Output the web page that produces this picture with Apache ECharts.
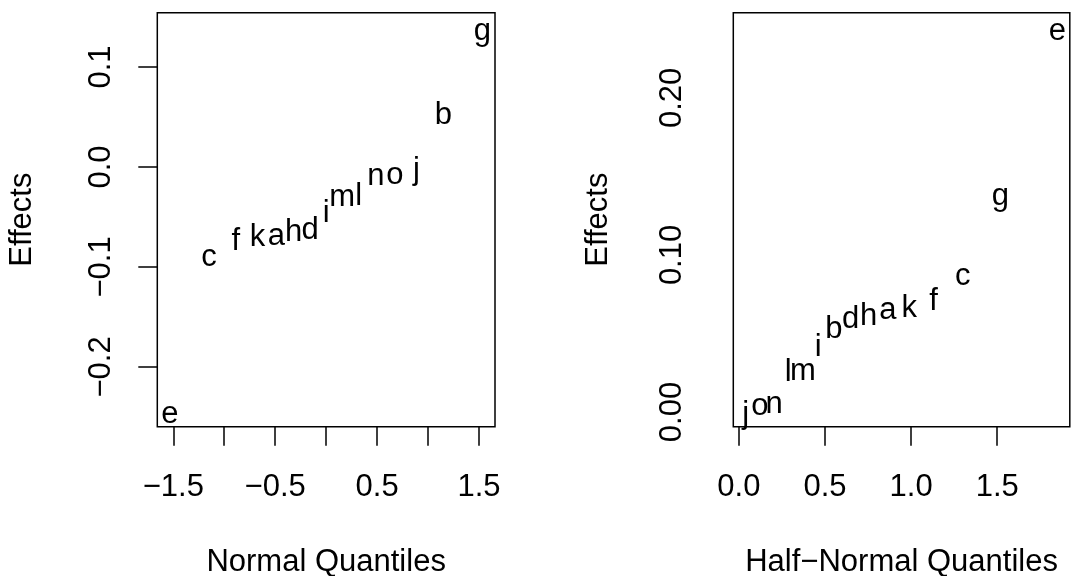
<!DOCTYPE html>
<html><head><meta charset="utf-8">
<script src="https://cdn.jsdelivr.net/npm/echarts@6/dist/echarts.min.js"></script>
<style>html,body{margin:0;padding:0;background:#fff}#c{width:1071px;height:576px}</style>
</head><body><div id="c"></div>
<script>
// Effect labels and their estimated effect sizes
const letters = ['a','b','c','d','e','f','g','h','i','j','k','l','m','n','o'];
const effects = [-0.0665, 0.0545, -0.088, -0.061, -0.2445, -0.072, 0.139, -0.0625, -0.043, -0.0004, -0.068, -0.0268, -0.0275, -0.0065, -0.0055];
// Normal quantile (x) of each letter in the left panel
const normalQuantiles = [-0.489, 1.150, -1.150, -0.157, -1.534, -0.887, 1.534, -0.319, 0.000, 0.887, -0.674, 0.319, 0.157, 0.489, 0.674];
// Half-normal quantile (x) of each letter in the right panel
const halfNormalQuantiles = [0.865, 0.552, 1.300, 0.649, 1.849, 1.131, 1.518, 0.753, 0.460, 0.040, 0.989, 0.287, 0.372, 0.204, 0.122];
// Ticks and tick labels
const leftXTicks = [-1.5, -1, -0.5, 0, 0.5, 1, 1.5];
const leftXLabels = [-1.5, -0.5, 0.5, 1.5];
const leftYTicks = [-0.2, -0.1, 0, 0.1];
const rightXTicks = [0, 0.5, 1, 1.5];
const rightYLabels = [0, 0.1, 0.2];

const FONT = 'Liberation Sans, Arial, Helvetica, sans-serif';
const FS = 31;
const absEffects = effects.map(Math.abs);

function ext(arr) {
  const mn = Math.min(...arr), mx = Math.max(...arr), r = mx - mn;
  return [mn - 0.04 * r, mx + 0.04 * r];
}
function fmt(d) {
  return v => (v < -1e-12 ? '\u2212' : '') + Math.abs(v).toFixed(d);
}
const leftData = letters.map((l, i) => ({ name: l, value: [normalQuantiles[i], effects[i]] }));
const rightData = letters.map((l, i) => ({ name: l, value: [halfNormalQuantiles[i], absEffects[i]] }));

const lx = ext(normalQuantiles), ly = ext(effects);
const rx = ext(halfNormalQuantiles), ry = ext(absEffects);

const textStyle = { fontSize: FS, color: '#000', fontFamily: FONT };
const tickStyle = { color: '#000', width: 1.5 };

function xAxis(gi, range, ticks, labels, dec, name) {
  return {
    type: 'value', gridIndex: gi, min: range[0], max: range[1], position: 'bottom',
    axisLine: { show: false, onZero: false },
    splitLine: { show: false },
    axisTick: { show: true, customValues: ticks, length: 19, lineStyle: tickStyle },
    axisLabel: Object.assign({ customValues: labels, formatter: fmt(dec), margin: 45, hideOverlap: false }, textStyle),
    name: name, nameLocation: 'middle', nameGap: 120, nameTextStyle: textStyle
  };
}
function yAxis(gi, range, ticks, labels, dec, showTick, margin) {
  return {
    type: 'value', gridIndex: gi, min: range[0], max: range[1], position: 'left',
    axisLine: { show: false, onZero: false },
    splitLine: { show: false },
    axisTick: { show: showTick, customValues: ticks, length: 19, lineStyle: tickStyle },
    axisLabel: Object.assign({ customValues: labels, formatter: fmt(dec), margin: margin, rotate: 90, hideOverlap: false }, textStyle),
    name: 'Effects', nameLocation: 'middle', nameGap: 119, nameTextStyle: textStyle
  };
}
const labelCfg = Object.assign({ show: true, position: 'inside', formatter: '{b}', offset: [0, 3], textBorderWidth: 0, textBorderColor: 'transparent', opacity: 1 }, textStyle);

const gridBase = { top: 12.7, height: 414, show: true, borderColor: '#000', borderWidth: 1.5, backgroundColor: 'transparent', containLabel: false, outerBoundsMode: 'none' };

const chart = echarts.init(document.getElementById('c'), null, { renderer: 'canvas' });
chart.setOption({
  animation: false,
  backgroundColor: '#fff',
  grid: [
    Object.assign({ left: 157.3, width: 337.7 }, gridBase),
    Object.assign({ left: 733.3, width: 336.5 }, gridBase)
  ],
  xAxis: [
    xAxis(0, lx, leftXTicks, leftXLabels, 1, 'Normal Quantiles'),
    xAxis(1, rx, rightXTicks, rightXTicks, 1, 'Half\u2212Normal Quantiles')
  ],
  yAxis: [
    yAxis(0, ly, leftYTicks, leftYTicks, 1, true, 40),
    yAxis(1, ry, rightYLabels, rightYLabels, 2, false, 45)
  ],
  series: [
    { type: 'scatter', xAxisIndex: 0, yAxisIndex: 0, data: leftData, symbolSize: 1, itemStyle: { color: '#000', opacity: 0 }, label: labelCfg, clip: false },
    { type: 'scatter', xAxisIndex: 1, yAxisIndex: 1, data: rightData, symbolSize: 1, itemStyle: { color: '#000', opacity: 0 }, label: labelCfg, clip: false }
  ]
});
</script></body></html>
